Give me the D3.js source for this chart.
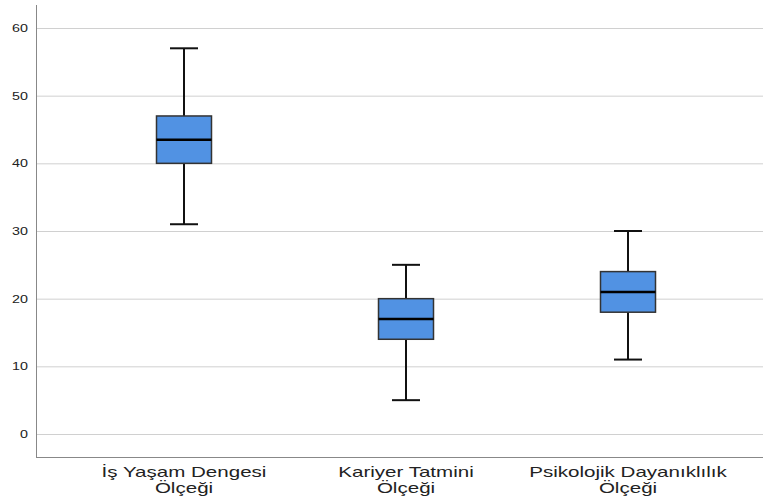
<!DOCTYPE html>
<html>
<head>
<meta charset="utf-8">
<script src="https://cdn.jsdelivr.net/npm/d3@7"></script>
<style>
  body { margin: 0; background: #fff; }
  svg { display: block; }
</style>
</head>
<body>
<script>
const categories = [["İş Yaşam Dengesi", "Ölçeği"], ["Kariyer Tatmini", "Ölçeği"], ["Psikolojik Dayanıklılık", "Ölçeği"]];
const minVals = [31, 5, 11];
const q1Vals = [40, 14, 18];
const medVals = [43.5, 17, 21];
const q3Vals = [47, 20, 24];
const maxVals = [57, 25, 30];
const yTicks = [0, 10, 20, 30, 40, 50, 60];

const width = 763, height = 499;
const svg = d3.select("body").append("svg")
  .attr("width", width)
  .attr("height", height);

const y = d3.scaleLinear().domain([0, 60]).range([434, 28]);
const x = d3.scaleBand().domain(d3.range(categories.length)).range([73, 739]);

// grid
svg.append("g")
  .selectAll("line")
  .data(yTicks)
  .enter()
  .append("line")
  .attr("x1", 36)
  .attr("x2", width)
  .attr("y1", (d) => y(d) + 0.5)
  .attr("y2", (d) => y(d) + 0.5)
  .attr("stroke", "#d0d0d0")
  .attr("stroke-width", 1);

// y tick labels (stretched horizontally like the source image)
svg.append("g")
  .selectAll("text")
  .data(yTicks)
  .enter()
  .append("text")
  .attr("transform", (d) => `translate(28,${y(d)}) scale(1.3,1)`)
  .attr("dy", "0.35em")
  .attr("text-anchor", "end")
  .attr("font-family", "Liberation Sans, Arial, sans-serif")
  .attr("font-size", 11)
  .attr("fill", "#222")
  .text((d) => d);

svg.append("line")
  .attr("x1", 36.5).attr("x2", 36.5)
  .attr("y1", 5).attr("y2", 457)
  .attr("stroke", "#888");
svg.append("line")
  .attr("x1", 36).attr("x2", width)
  .attr("y1", 457.5).attr("y2", 457.5)
  .attr("stroke", "#888");

// boxes
const boxW = 55, capW = 28;
const data = categories.map((c, i) => ({
  i, min: minVals[i], q1: q1Vals[i], med: medVals[i], q3: q3Vals[i], max: maxVals[i]
}));

const box = svg.append("g")
  .selectAll("g")
  .data(data)
  .enter()
  .append("g")
  .attr("transform", (d) => `translate(${x(d.i) + x.bandwidth() / 2},0)`);

box.append("line")
  .attr("x1", 0).attr("x2", 0)
  .attr("y1", (d) => y(d.max)).attr("y2", (d) => y(d.min))
  .attr("stroke", "#111").attr("stroke-width", 2);
box.append("line")
  .attr("x1", -capW / 2).attr("x2", capW / 2)
  .attr("y1", (d) => y(d.max)).attr("y2", (d) => y(d.max))
  .attr("stroke", "#111").attr("stroke-width", 2);
box.append("line")
  .attr("x1", -capW / 2).attr("x2", capW / 2)
  .attr("y1", (d) => y(d.min)).attr("y2", (d) => y(d.min))
  .attr("stroke", "#111").attr("stroke-width", 2);
box.append("rect")
  .attr("x", -boxW / 2)
  .attr("width", boxW)
  .attr("y", (d) => y(d.q3))
  .attr("height", (d) => y(d.q1) - y(d.q3))
  .attr("fill", "#5192e3")
  .attr("stroke", "#333")
  .attr("stroke-width", 1.5);
box.append("line")
  .attr("x1", -boxW / 2).attr("x2", boxW / 2)
  .attr("y1", (d) => y(d.med)).attr("y2", (d) => y(d.med))
  .attr("stroke", "#000").attr("stroke-width", 2.5);

// category labels
const lab = svg.append("g")
  .selectAll("text")
  .data(categories)
  .enter()
  .append("text")
  .attr("transform", (d, i) => `translate(${x(i) + x.bandwidth() / 2},477) scale(1.37,1)`)
  .attr("text-anchor", "middle")
  .attr("font-family", "Liberation Sans, Arial, sans-serif")
  .attr("font-size", 15)
  .attr("fill", "#222");
lab.each(function (d) {
  const t = d3.select(this);
  d.forEach((line, k) => {
    t.append("tspan")
      .attr("x", 0)
      .attr("dy", k === 0 ? 0 : 16)
      .text(line);
  });
});
</script>
</body>
</html>
